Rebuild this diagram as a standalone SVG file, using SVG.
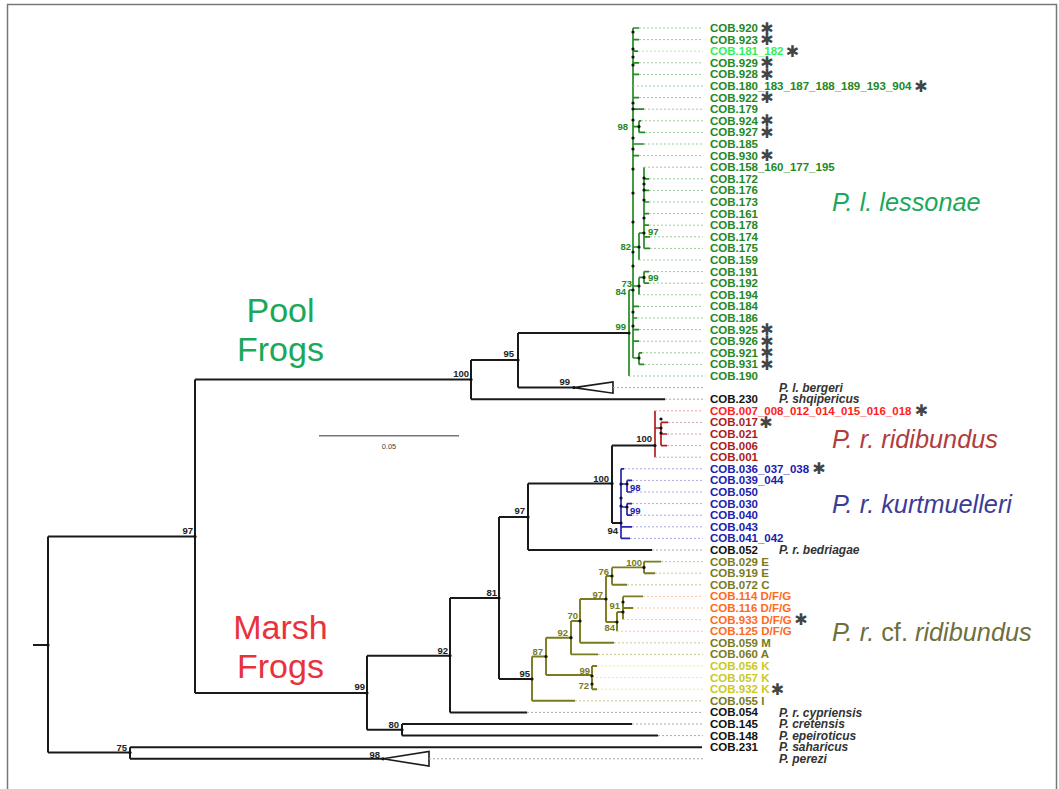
<svg xmlns="http://www.w3.org/2000/svg" width="1059" height="789" viewBox="0 0 1059 789">
<style>
text{font-family:"Liberation Sans",Arial,sans-serif}
.b{stroke:#1a1a1a;stroke-width:2;fill:none}
.g{stroke:#248a24;stroke-width:1.7;fill:none}
.r{stroke:#b01e1e;stroke-width:1.7;fill:none}
.u{stroke:#2424b0;stroke-width:1.7;fill:none}
.o{stroke:#7a7a1e;stroke-width:1.9;fill:none}
.d{stroke-width:1;stroke-dasharray:2 2;fill:none}
.dk{stroke:#a8a8a8}.dg{stroke:#9acb9a}.dlg{stroke:#a8f0b0}.dr{stroke:#f0a0a0}.drr{stroke:#d8a0a0}.du{stroke:#a8a8e8}.do{stroke:#c8c894}.dor{stroke:#ffc0a0}.dy{stroke:#ecec9a}
.l{font-size:11.5px;font-weight:bold}
.lg{fill:#238823}.lbg{fill:#33f05a}.lr{fill:#ff2020}.ldr{fill:#ad1c1c}.lu{fill:#2020b0}.lo{fill:#7a7a20}.lor{fill:#ff6a1e}.ly{fill:#caca1e}.lk{fill:#111}
.sp{font-size:12px;font-weight:bold;font-style:italic;fill:#333}
.st{font-family:"DejaVu Sans",sans-serif;font-size:16px;fill:#444;text-anchor:middle}
.n{font-size:9.5px;font-weight:bold;fill:#222;text-anchor:end}
.ng{fill:#238823}.nu{fill:#2020b0}.no{fill:#7a7a20}
.big{font-size:25.3px;font-style:italic}
.grp{font-size:34px;text-anchor:middle}
.dot{fill:#111}
</style>
<rect x="0" y="0" width="1059" height="789" fill="#fff"/>
<rect x="7.5" y="4.5" width="1049" height="800" fill="none" stroke="#777" stroke-width="1.5"/>

<g id="connectors">
<path class="b" d="M33 645H48M48 536.5V752.6M48 536.5H195M195 379.6V693M195 379.6H471M471 360V399.2M471 360H518M518 333V387.6M518 333H629M518 387.6H574M471 399.2H665M195 693H367M367 655.7V729.8M367 655.7H450M450 598V712.4M450 598H499M450 712.4H527M499 517V679M499 517H528M528 483.5V550M528 550H652M528 483.5H612M612 445.6V523M612 445.6H655M612 523H621M499 679H532M367 729.8H402M402 724V735.6M402 724H632M402 735.6H658M48 752.6H130M130 747.2V758.8M130 747.2H702M130 758.8H383"/>
<polygon points="574,387.6 613,382 613,393.2" fill="#fff" stroke="#1a1a1a" stroke-width="1.6"/>
<polygon points="383,758.8 429,751.5 429,766.1" fill="#fff" stroke="#1a1a1a" stroke-width="1.6"/>
<path class="g" d="M629 290V376M629 290H633M633 28V358M633 28H639M633 39.6H639M633 51.2H638M633 62.8H639M633 74.4H639M633 97.6H639M633 109.2H644M633 126.6H639M639 120.8V132.4M639 120.8H641M639 132.4H645M633 144H644M633 155.6H639M644 167.2V248.4M644 178.8H649M644 190.4H649M644 202H649M644 213.6H649M644 225.2H649M644 236.8H650M644 248.4H650M639 233V260M639 233H644M633 247H639M644 271.6V283.2M644 271.6H649M644 283.2H649M639 277.4V294.8M639 277.4H644M633 286H639M633 306.4H639M633 318H637M633 329.6H639M633 341.2H639M633 358H639M639 352.8V364.4M639 352.8H642M639 364.4H644"/>
<path class="r" d="M655 410.8V457.2M655 428H661M661 422.4V445.6M661 422.4H668M661 434H667M661 445.6H667"/>
<path class="u" d="M621 468.8V538.4M621 468.8H624M621 484H627M627 480.4V492M627 480.4H632M627 492H632M621 507H627M627 503.6V515.2M627 503.6H632M627 515.2H632M621 526.8H632M621 538.4H630"/>
<path class="o" d="M532 656.5V700.8M532 700.8H575M532 656.5H546M546 637.7V675M546 675H592M592 666V689.2M592 666H597M592 689.2H597M546 637.7H571M571 621V654.4M571 654.4H598M571 621H580M580 599V642.8M580 642.8H614M580 599H606M606 576V622M606 576H612M612 567.4V584.8M612 584.8H627M612 567.4H644M644 561.6V573.2M644 561.6H661M644 573.2H655M606 622H617M617 612V631.2M617 612H623M623 596.4V619.6M623 596.4H643M623 608H633"/>
<g class="d">
<path class="dg" d="M639 28H703M639 39.6H703M639 62.8H703M639 74.4H703M633 86H703M639 97.6H703M644 109.2H703M641 120.8H703M645 132.4H703M644 144H703M639 155.6H703M644 167.2H703M649 178.8H703M649 190.4H703M649 202H703M649 213.6H703M649 225.2H703M650 236.8H703M650 248.4H703M639 260H703M649 271.6H703M649 283.2H703M639 294.8H703M639 306.4H703M637 318H703M639 329.6H703M639 341.2H703M642 352.8H703M644 364.4H703M629 376H703"/>
<path class="dlg" d="M638 51.2H703"/>
<path class="dk" d="M613 387.6H703M665 399.2H703M652 550H703M527 712.4H703M632 724H703M658 735.6H703M429 758.8H703"/>
<path class="dr" d="M655 410.8H703"/>
<path class="drr" d="M668 422.4H703M667 434H703M667 445.6H703M655 457.2H703"/>
<path class="du" d="M624 468.8H703M632 480.4H703M632 492H703M632 503.6H703M632 515.2H703M632 526.8H703M630 538.4H703"/>
<path class="do" d="M661 561.6H703M655 573.2H703M627 584.8H703M614 642.8H703M598 654.4H703M575 700.8H703"/>
<path class="dor" d="M643 596.4H703M633 608H703M623 619.6H703M617 631.2H703"/>
<path class="dy" d="M597 666H703M592 677.6H703M597 689.2H703"/>
</g>
<g class="dot">
<circle cx="48" cy="645" r="1.6"/><circle cx="195" cy="536.5" r="1.6"/><circle cx="471" cy="379.6" r="1.6"/><circle cx="518" cy="360" r="1.6"/><circle cx="574" cy="387.6" r="1.6"/><circle cx="367" cy="693" r="1.6"/><circle cx="450" cy="655.7" r="1.6"/><circle cx="499" cy="598" r="1.6"/><circle cx="528" cy="517" r="1.6"/><circle cx="612" cy="483.5" r="1.6"/><circle cx="655" cy="445.6" r="1.6"/><circle cx="532" cy="679" r="1.6"/><circle cx="402" cy="729.8" r="1.6"/><circle cx="130" cy="752.6" r="1.6"/><circle cx="383" cy="758.8" r="1.6"/>
<circle cx="629" cy="333" r="1.6"/><circle cx="633" cy="290" r="1.6"/><circle cx="633" cy="32" r="1.6"/><circle cx="633" cy="49" r="1.6"/><circle cx="633" cy="57" r="1.6"/><circle cx="633" cy="65" r="1.6"/><circle cx="633" cy="103" r="1.6"/><circle cx="633" cy="109" r="1.6"/><circle cx="633" cy="120" r="1.6"/><circle cx="633" cy="138" r="1.6"/><circle cx="633" cy="149" r="1.6"/><circle cx="633" cy="169" r="1.6"/><circle cx="633" cy="193" r="1.6"/><circle cx="633" cy="222" r="1.6"/><circle cx="633" cy="252" r="1.6"/><circle cx="633" cy="266" r="1.6"/><circle cx="633" cy="312" r="1.6"/><circle cx="633" cy="326" r="1.6"/>
<circle cx="639" cy="126.6" r="1.6"/><circle cx="639" cy="247" r="1.6"/><circle cx="639" cy="286" r="1.6"/><circle cx="639" cy="358" r="1.6"/><circle cx="644" cy="178" r="1.6"/><circle cx="644" cy="184" r="1.6"/><circle cx="644" cy="190" r="1.6"/><circle cx="644" cy="200" r="1.6"/><circle cx="644" cy="218" r="1.6"/><circle cx="644" cy="233" r="1.6"/><circle cx="644" cy="277.4" r="1.6"/>
<circle cx="661" cy="419" r="1.6"/><circle cx="661" cy="428" r="1.6"/><circle cx="661" cy="433" r="1.6"/>
<circle cx="621" cy="523" r="1.6"/><circle cx="621" cy="484" r="1.6"/><circle cx="621" cy="498" r="1.6"/><circle cx="621" cy="506" r="1.6"/><circle cx="627" cy="484" r="1.6"/><circle cx="627" cy="507" r="1.6"/>
<circle cx="546" cy="656.5" r="1.6"/><circle cx="571" cy="637.7" r="1.6"/><circle cx="580" cy="621" r="1.6"/><circle cx="606" cy="599" r="1.6"/><circle cx="612" cy="576" r="1.6"/><circle cx="644" cy="567.4" r="1.6"/><circle cx="623" cy="602" r="1.6"/><circle cx="623" cy="612" r="1.6"/><circle cx="617" cy="622" r="1.6"/><circle cx="592" cy="676" r="1.6"/><circle cx="592" cy="684" r="1.6"/>
</g>
</g>

<g id="support">
<text class="n" x="193" y="534">97</text>
<text class="n" x="469" y="376.5">100</text>
<text class="n" x="514" y="357">95</text>
<text class="n" x="570" y="385">99</text>
<text class="n" x="365" y="690">99</text>
<text class="n" x="448" y="653.5">92</text>
<text class="n" x="497" y="595.5">81</text>
<text class="n" x="525" y="514">97</text>
<text class="n" x="609" y="481.5">100</text>
<text class="n" x="652" y="441.5">100</text>
<text class="n" x="618" y="533.5">94</text>
<text class="n" x="530" y="676.5">95</text>
<text class="n" x="399" y="727.5">80</text>
<text class="n" x="127" y="751">75</text>
<text class="n" x="380" y="757.5">98</text>
<text class="n ng" x="628" y="129.5">98</text>
<text class="n ng" x="648" y="234.5" text-anchor="start" style="text-anchor:start">97</text>
<text class="n ng" x="631" y="250">82</text>
<text class="n ng" x="648" y="280.5" style="text-anchor:start">99</text>
<text class="n ng" x="632" y="286.5">73</text>
<text class="n ng" x="626" y="294.5">84</text>
<text class="n ng" x="626" y="330">99</text>
<text class="n nu" x="630" y="490.5" style="text-anchor:start">98</text>
<text class="n nu" x="630" y="513.5" style="text-anchor:start">99</text>
<text class="n no" x="642" y="565.5">100</text>
<text class="n no" x="609" y="574.5">76</text>
<text class="n no" x="603" y="597.5">97</text>
<text class="n no" x="620" y="608.5">91</text>
<text class="n no" x="615" y="630.5">84</text>
<text class="n no" x="578" y="619">70</text>
<text class="n no" x="568" y="636">92</text>
<text class="n no" x="543" y="654.5">87</text>
<text class="n no" x="590" y="673.5">99</text>
<text class="n no" x="589" y="688.5">72</text>
</g>

<g id="scale">
<line x1="319" y1="435.7" x2="459" y2="435.7" stroke="#777" stroke-width="1.5"/>
<text x="389" y="449" font-size="7.5" fill="#444" text-anchor="middle">0.05</text>
</g>

<g id="leaves">
<g id="n920"><text class="l lg" x="710" y="32">COB.920</text><text class="st" x="767" y="33.5">✱</text></g>
<g id="n923"><text class="l lg" x="710" y="43.6">COB.923</text><text class="st" x="767" y="45.1">✱</text></g>
<g id="n181"><text class="l lbg" x="710" y="55.2">COB.181_182</text><text class="st" x="792.5" y="56.7">✱</text></g>
<g id="n929"><text class="l lg" x="710" y="66.8">COB.929</text><text class="st" x="767" y="68.3">✱</text></g>
<g id="n928"><text class="l lg" x="710" y="78.4">COB.928</text><text class="st" x="767" y="79.9">✱</text></g>
<g id="n180"><text class="l lg" x="710" y="90">COB.180_183_187_188_189_193_904</text><text class="st" x="921" y="91.5">✱</text></g>
<g id="n922"><text class="l lg" x="710" y="101.6">COB.922</text><text class="st" x="767" y="103.1">✱</text></g>
<g id="n179"><text class="l lg" x="710" y="113.2">COB.179</text></g>
<g id="n924"><text class="l lg" x="710" y="124.8">COB.924</text><text class="st" x="767" y="126.3">✱</text></g>
<g id="n927"><text class="l lg" x="710" y="136.4">COB.927</text><text class="st" x="767" y="137.9">✱</text></g>
<g id="n185"><text class="l lg" x="710" y="148">COB.185</text></g>
<g id="n930"><text class="l lg" x="710" y="159.6">COB.930</text><text class="st" x="767" y="161.1">✱</text></g>
<g id="n158"><text class="l lg" x="710" y="171.2">COB.158_160_177_195</text></g>
<g id="n172"><text class="l lg" x="710" y="182.8">COB.172</text></g>
<g id="n176"><text class="l lg" x="710" y="194.4">COB.176</text></g>
<g id="n173"><text class="l lg" x="710" y="206">COB.173</text></g>
<g id="n161"><text class="l lg" x="710" y="217.6">COB.161</text></g>
<g id="n178"><text class="l lg" x="710" y="229.2">COB.178</text></g>
<g id="n174"><text class="l lg" x="710" y="240.8">COB.174</text></g>
<g id="n175"><text class="l lg" x="710" y="252.4">COB.175</text></g>
<g id="n159"><text class="l lg" x="710" y="264">COB.159</text></g>
<g id="n191"><text class="l lg" x="710" y="275.6">COB.191</text></g>
<g id="n192"><text class="l lg" x="710" y="287.2">COB.192</text></g>
<g id="n194"><text class="l lg" x="710" y="298.8">COB.194</text></g>
<g id="n184"><text class="l lg" x="710" y="310.4">COB.184</text></g>
<g id="n186"><text class="l lg" x="710" y="322">COB.186</text></g>
<g id="n925"><text class="l lg" x="710" y="333.6">COB.925</text><text class="st" x="767" y="335.1">✱</text></g>
<g id="n926"><text class="l lg" x="710" y="345.2">COB.926</text><text class="st" x="767" y="346.7">✱</text></g>
<g id="n921"><text class="l lg" x="710" y="356.8">COB.921</text><text class="st" x="767" y="358.3">✱</text></g>
<g id="n931"><text class="l lg" x="710" y="368.4">COB.931</text><text class="st" x="767" y="369.9">✱</text></g>
<g id="n190"><text class="l lg" x="710" y="380">COB.190</text></g>
<g id="nbergeri"><text class="sp" x="779" y="391.8">P. l. bergeri</text></g>
<g id="n230"><text class="l lk" x="710" y="403.2">COB.230</text><text class="sp" x="779" y="403.4">P. shqipericus</text></g>
<g id="n007"><text class="l lr" x="710" y="414.8">COB.007_008_012_014_015_016_018</text><text class="st" x="921.5" y="416.3">✱</text></g>
<g id="n017"><text class="l ldr" x="710" y="426.4">COB.017</text><text class="st" x="766" y="427.9">✱</text></g>
<g id="n021"><text class="l ldr" x="710" y="438">COB.021</text></g>
<g id="n006"><text class="l ldr" x="710" y="449.6">COB.006</text></g>
<g id="n001"><text class="l ldr" x="710" y="461.2">COB.001</text></g>
<g id="n036"><text class="l lu" x="710" y="472.8">COB.036_037_038</text><text class="st" x="819" y="474.3">✱</text></g>
<g id="n039"><text class="l lu" x="710" y="484.4">COB.039_044</text></g>
<g id="n050"><text class="l lu" x="710" y="496">COB.050</text></g>
<g id="n030"><text class="l lu" x="710" y="507.6">COB.030</text></g>
<g id="n040"><text class="l lu" x="710" y="519.2">COB.040</text></g>
<g id="n043"><text class="l lu" x="710" y="530.8">COB.043</text></g>
<g id="n041"><text class="l lu" x="710" y="542.4">COB.041_042</text></g>
<g id="n052"><text class="l lk" x="710" y="554">COB.052</text><text class="sp" x="779" y="554.2">P. r. bedriagae</text></g>
<g id="n029"><text class="l lo" x="710" y="565.6">COB.029 E</text></g>
<g id="n919"><text class="l lo" x="710" y="577.2">COB.919 E</text></g>
<g id="n072"><text class="l lo" x="710" y="588.8">COB.072 C</text></g>
<g id="n114"><text class="l lor" x="710" y="600.4">COB.114 D/F/G</text></g>
<g id="n116"><text class="l lor" x="710" y="612">COB.116 D/F/G</text></g>
<g id="n933"><text class="l lor" x="710" y="623.6">COB.933 D/F/G</text><text class="st" x="801" y="625.1">✱</text></g>
<g id="n125"><text class="l lor" x="710" y="635.2">COB.125 D/F/G</text></g>
<g id="n059"><text class="l lo" x="710" y="646.8">COB.059 M</text></g>
<g id="n060"><text class="l lo" x="710" y="658.4">COB.060 A</text></g>
<g id="n056"><text class="l ly" x="710" y="670">COB.056 K</text></g>
<g id="n057"><text class="l ly" x="710" y="681.6">COB.057 K</text></g>
<g id="n932"><text class="l ly" x="710" y="693.2">COB.932 K</text><text class="st" x="777.5" y="694.7">✱</text></g>
<g id="n055"><text class="l lo" x="710" y="704.8">COB.055 I</text></g>
<g id="n054"><text class="l lk" x="710" y="716.4">COB.054</text><text class="sp" x="779" y="716.6">P. r. cypriensis</text></g>
<g id="n145"><text class="l lk" x="710" y="728">COB.145</text><text class="sp" x="779" y="728.2">P. cretensis</text></g>
<g id="n148"><text class="l lk" x="710" y="739.6">COB.148</text><text class="sp" x="779" y="739.8">P. epeiroticus</text></g>
<g id="n231"><text class="l lk" x="710" y="751.2">COB.231</text><text class="sp" x="779" y="751.4">P. saharicus</text></g>
<g id="nperezi"><text class="sp" x="779" y="763">P. perezi</text></g>
</g>

<g id="clades">
<text class="big" x="832" y="211" fill="#19a85c">P. l. lessonae</text>
<text class="big" x="832" y="448" fill="#b03c3c">P. r. ridibundus</text>
<text class="big" x="832" y="513" fill="#3c3c98">P. r. kurtmuelleri</text>
<text class="big" x="832" y="641" fill="#6f6f3c">P. r. <tspan font-style="normal">cf.</tspan> ridibundus</text>
<text class="grp" x="280.5" y="322" fill="#1aa85a">Pool</text>
<text class="grp" x="280.5" y="361" fill="#1aa85a">Frogs</text>
<text class="grp" x="280.5" y="639" fill="#e8323c">Marsh</text>
<text class="grp" x="280.5" y="678" fill="#e8323c">Frogs</text>
</g>
</svg>
